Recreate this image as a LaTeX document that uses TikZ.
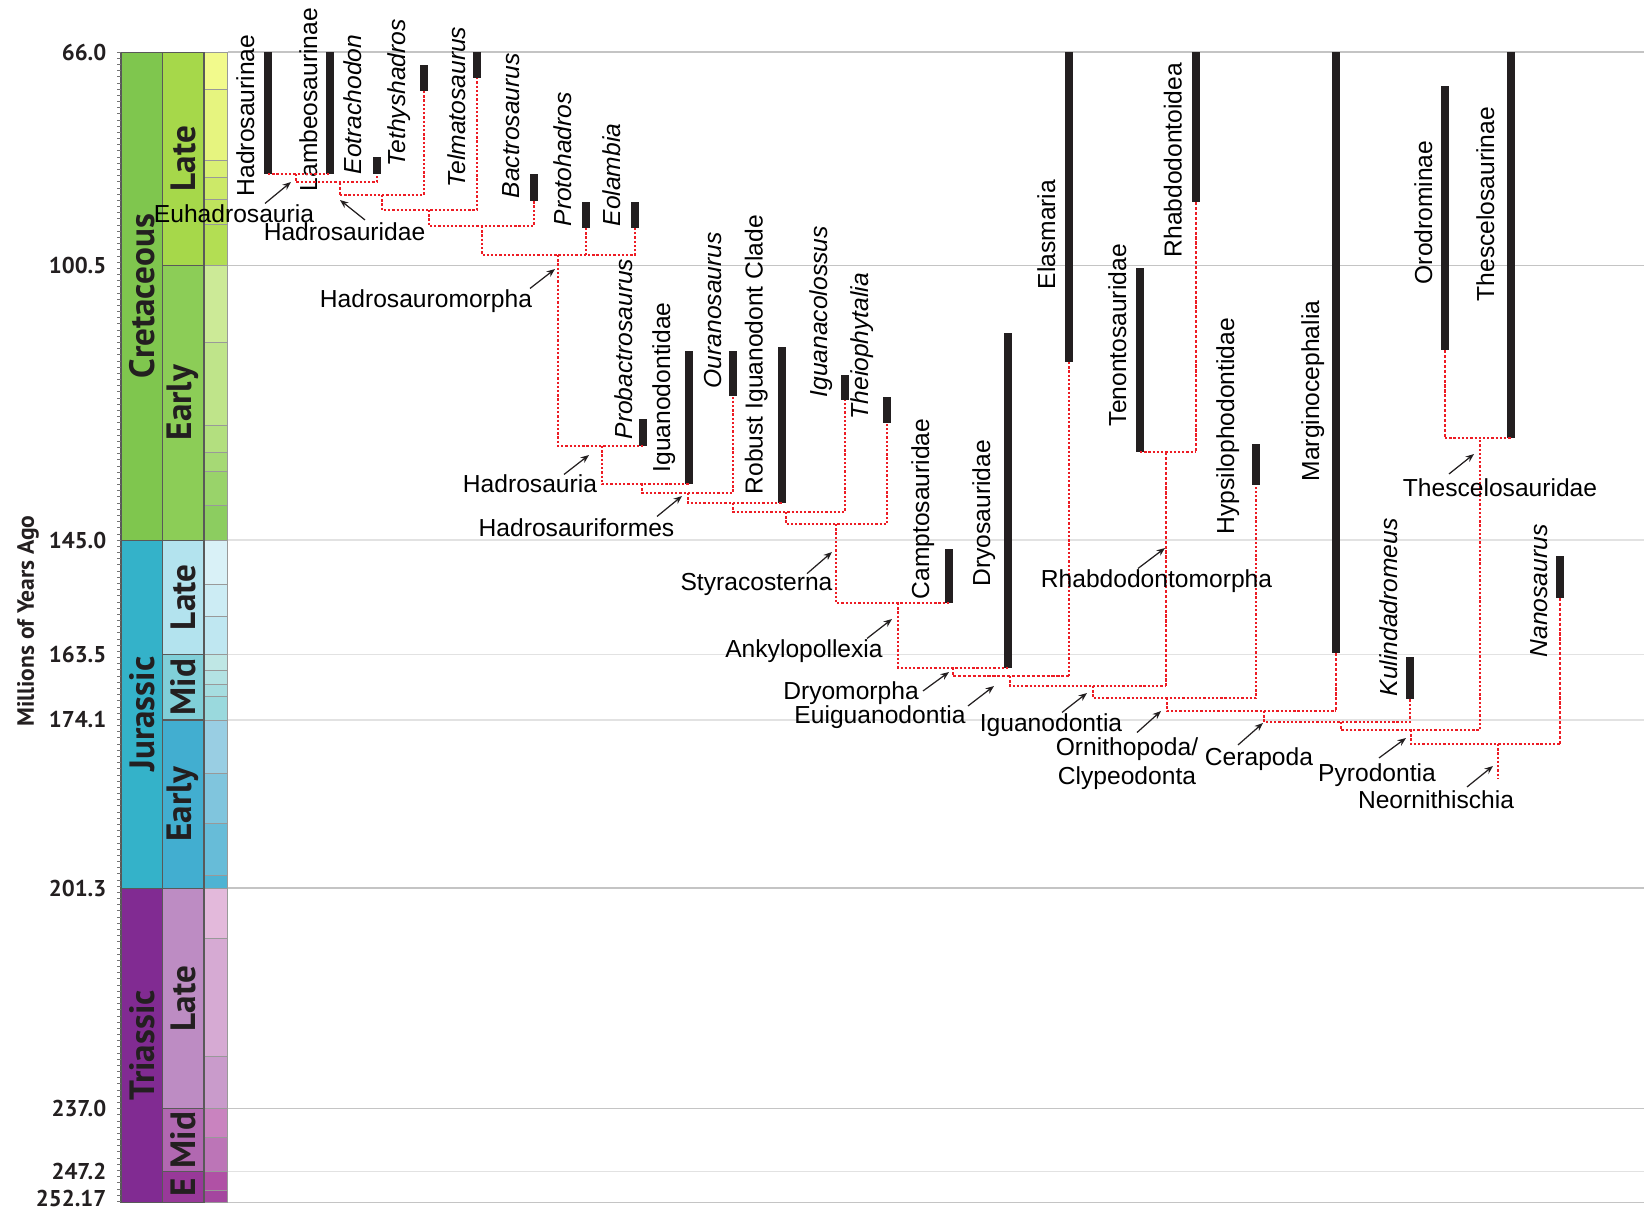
\documentclass[tikz,border=0pt]{standalone}
\usepackage{fontspec}
\setmainfont{Liberation Sans}
\newfontfamily\geofont{PT Sans}
\usetikzlibrary{arrows.meta}

\definecolor{barblack}{HTML}{231F20}
\definecolor{treered}{HTML}{ED1C24}
\definecolor{gridgray}{HTML}{C4C4C4}
\definecolor{gridlight}{HTML}{E2E2E2}

\begin{document}
\begin{tikzpicture}[x=0.01cm, y=-0.01cm, >=Stealth,
    rangebar/.style={draw=barblack, line width=2.25pt},
    branch/.style={draw=treered, line width=0.55pt, dash pattern=on 0.65pt off 0.55pt},
    thinbranch/.style={draw=treered, line width=0.3pt, dash pattern=on 0.9pt off 0.5pt},
    pointer/.style={draw=barblack, line width=0.35pt, -{Stealth[length=2.4pt,width=1.9pt]}},
    taxon/.style={rotate=90, anchor=south west, inner sep=0pt, font=\fontsize{7}{8}\selectfont},
    clade/.style={anchor=base, inner sep=0pt, font=\fontsize{7}{8.2}\selectfont},
    scalelabel/.style={anchor=east, inner sep=0pt, text=barblack, font=\geofont\bfseries\fontsize{6.5}{7}\selectfont},
    unitlabel/.style={rotate=90, inner sep=0pt, text=barblack, font=\geofont\bfseries\fontsize{10}{11}\selectfont}]

  \useasboundingbox (0,0) rectangle (1644,1220);

  % time scale, y given in Ma
  \begin{scope}[yshift=3.5555cm, y=-0.06175cm]
    \foreach \m/\c in {66/gridgray, 100.5/gridgray, 145/gridlight, 163.5/gridlight, 174.1/gridlight,
                       201.3/gridgray, 237/gridgray, 247.2/gridlight, 252.17/gridgray}
      \draw[\c, line width=0.4pt] (227.5,\m) -- (1644,\m);

    \foreach \t/\b/\c in {66/72.1/F2FA8C, 72.1/83.6/E6F47F, 83.6/86.3/D9EF74, 86.3/89.8/CCE968,
                          89.8/93.9/BFE35D, 93.9/100.5/B3DE53, 100.5/113/CCEA97, 113/126.4/BFE48A,
                          126.4/130.8/B3DF7F, 130.8/133.9/A6D975, 133.9/139.4/99D36A, 139.4/145/8CCD60,
                          145/152.1/D9F1F7, 152.1/157.3/CCECF4, 157.3/163.5/BFE7F1, 163.5/166.1/BFE7E5,
                          166.1/168.3/B3E2E3, 168.3/170.3/A6DDE0, 170.3/174.1/9AD9DD, 174.1/182.7/99CEE3,
                          182.7/190.8/80C5DD, 190.8/199.3/67BCD8, 199.3/201.3/4EB3D3, 201.3/209.5/E3B9DB,
                          209.5/228.5/D6AAD3, 228.5/237/C99BCB, 237/241.7/C983BF, 241.7/247.2/BC75B7,
                          247.2/250.3/B051A5, 250.3/252.17/A4469F} {
      \definecolor{stagefill}{HTML}{\c}
      \filldraw[fill=stagefill, draw=black!40, line width=0.2pt] (204,\t) rectangle (227.5,\b);
    }

    \foreach \t/\b/\c/\txt [count=\i] in {66/100.5/A6D84A/Late, 100.5/145/8CCD57/Early,
                          145/163.5/B3E3EE/Late, 163.5/174.1/80CFD8/Mid, 174.1/201.3/42AED0/Early,
                          201.3/237/BD8CC3/Late, 237/247.2/B168B1/Mid, 247.2/252.17/983999/E} {
      \definecolor{epochfill}{HTML}{\c}
      \filldraw[fill=epochfill, draw=black!65, line width=0.3pt] (162.5,\t) rectangle (204,\b);
      \node[unitlabel] (epoch-\i) at (183.25,{(\t+\b)/2}) {\txt};
    }

    \foreach \t/\b/\c/\txt [count=\i] in {66/145/7FC64E/Cretaceous, 145/201.3/34B2C9/Jurassic,
                          201.3/252.17/812B92/Triassic} {
      \definecolor{periodfill}{HTML}{\c}
      \filldraw[fill=periodfill, draw=black!65, line width=0.3pt] (121,\t) rectangle (162.5,\b);
      \node[unitlabel] (period-\i) at (141.75,{(\t+\b)/2}) {\txt};
    }

    \foreach \m in {66,...,252}
      \draw[black!55, line width=0.25pt] (117,\m) -- (121,\m);

    \foreach \m/\txt [count=\i] in {66/66.0, 100.5/100.5, 145/145.0, 163.5/163.5, 174.1/174.1,
                                    201.3/201.3, 237/237.0, 247.2/247.2, 251.5/252.17}
      \node[scalelabel] (age-\i) at (107,\m) {\txt};
  \end{scope}

  \node[rotate=90, inner sep=0pt, text=barblack, font=\geofont\bfseries\fontsize{6.7}{8}\selectfont]
    (axis-title) at (28,621) {Millions of Years Ago};

  % stratigraphic ranges
  \foreach \name/\x/\top/\bot in {hadrosaurinae/268/52/174, lambeosaurinae/330/52/174,
      eotrachodon/377/157/174, tethyshadros/424/65/91, telmatosaurus/477/52/78,
      bactrosaurus/534/174/201, protohadros/586/202/228, eolambia/635/202/228,
      probactrosaurus/643/419/446, iguanodontidae/689/351/484, ouranosaurus/733/351/396,
      robust/782/347/503, iguanacolossus/845/375/400, theiophytalia/887/397/423,
      camptosauridae/949/549/603, dryosauridae/1008/333/668, elasmaria/1069/52/362,
      tenontosauridae/1140/268/452, rhabdodontoidea/1196/52/202, hypsilophodontidae/1256/444/485,
      marginocephalia/1336/52/653, orodrominae/1445/86/350, thescelosaurinae/1511/52/438,
      kulindadromeus/1410/657/699, nanosaurus/1560/556/598} {
    \coordinate (\name) at (\x,\bot);
    \draw[rangebar] (\x,\top) -- (\name);
  }

  \foreach \name/\x/\y/\txt in {hadrosaurinae/255/197/Hadrosaurinae,
      lambeosaurinae/318/192/Lambeosaurinae, eotrachodon/362.5/175/\textit{Eotrachodon},
      tethyshadros/411/167/\textit{Tethyshadros}, telmatosaurus/466/188/\textit{Telmatosaurus},
      bactrosaurus/520/199/\textit{Bactrosaurus}, protohadros/572/227/\textit{Protohadros},
      eolambia/621/227/\textit{Eolambia}, probactrosaurus/633/440/\textit{Probactrosaurus},
      iguanodontidae/676/473/Iguanodontidae, ouranosaurus/722/389/\textit{Ouranosaurus},
      robust/768.5/495/Robust Iguanodont Clade, iguanacolossus/833/398/\textit{Iguanacolossus},
      theiophytalia/874/420/\textit{Theiophytalia}, camptosauridae/935/600/Camptosauridae,
      dryosauridae/996/587/Dryosauridae, elasmaria/1056/290/Elasmaria,
      tenontosauridae/1127/427/Tenontosauridae, rhabdodontoidea/1182.5/258/Rhabdodontoidea,
      hypsilophodontidae/1240/535/Hypsilophodontidae, marginocephalia/1325/482/Marginocephalia,
      orodrominae/1433/285/Orodrominae, thescelosaurinae/1495/302/Thescelosaurinae,
      kulindadromeus/1398/697/\textit{Kulindadromeus}, nanosaurus/1548/658/\textit{Nanosaurus}}
    \node[taxon] (lbl-\name) at (\x,\y) {\txt};

  % clade nodes
  \coordinate (euhadrosauria) at (296,174);
  \coordinate (hadrosauridae) at (340,182);
  \coordinate (clade-a) at (382,195);
  \coordinate (clade-b) at (429,210);
  \coordinate (clade-c) at (482,226);
  \coordinate (hadrosauromorpha) at (558,255);
  \coordinate (hadrosauria) at (602,446);
  \coordinate (clade-d) at (642,484);
  \coordinate (hadrosauriformes) at (688,493);
  \coordinate (clade-e) at (733,503);
  \coordinate (clade-f) at (786,512);
  \coordinate (styracosterna) at (836,524);
  \coordinate (ankylopollexia) at (898,603);
  \coordinate (dryomorpha) at (953,668);
  \coordinate (euiguanodontia) at (1010,676);
  \coordinate (rhabdodontomorpha) at (1166,452);
  \coordinate (iguanodontia) at (1093,686);
  \coordinate (ornithopoda) at (1167,698);
  \coordinate (cerapoda) at (1264,711);
  \coordinate (clade-g) at (1341,722);
  \coordinate (thescelosauridae) at (1480,438);
  \coordinate (pyrodontia) at (1411,730);
  \coordinate (neornithischia) at (1498,744);
  \coordinate (root) at (1498,778);

  \draw[branch] (hadrosaurinae) |- (euhadrosauria) -| (lambeosaurinae);
  \draw[branch] (euhadrosauria) |- (hadrosauridae) -| (eotrachodon);
  \draw[thinbranch] (hadrosauridae) -- (hadrosauridae |- clade-a);
  \draw[branch] (hadrosauridae |- clade-a) -- (clade-a) -| (tethyshadros);
  \draw[branch] (clade-a) |- (clade-b) -| (telmatosaurus);
  \draw[branch] (clade-b) |- (clade-c) -| (bactrosaurus);
  \draw[branch] (clade-c) |- (hadrosauromorpha) -| (eolambia);
  \draw[branch] (protohadros) -- (protohadros |- hadrosauromorpha);
  \draw[branch] (hadrosauromorpha) |- (hadrosauria) -| (probactrosaurus);
  \draw[branch] (hadrosauria) |- (clade-d) -| (iguanodontidae);
  \draw[branch] (clade-d) |- (hadrosauriformes) -| (ouranosaurus);
  \draw[branch] (hadrosauriformes) |- (clade-e) -| (robust);
  \draw[branch] (clade-e) |- (clade-f) -| (iguanacolossus);
  \draw[branch] (clade-f) |- (styracosterna) -| (theiophytalia);
  \draw[branch] (styracosterna) |- (ankylopollexia) -| (camptosauridae);
  \draw[branch] (ankylopollexia) |- (dryomorpha) -| (dryosauridae);
  \draw[branch] (dryomorpha) -- (dryomorpha |- euiguanodontia);
  \draw[thinbranch] (dryomorpha |- euiguanodontia) -- (elasmaria |- euiguanodontia);
  \draw[branch] (elasmaria) -- (elasmaria |- euiguanodontia);
  \draw[branch] (tenontosauridae) -- (tenontosauridae -| rhabdodontoidea);
  \draw[thinbranch] (rhabdodontoidea) -- (tenontosauridae -| rhabdodontoidea);
  \draw[branch] (euiguanodontia) |- (iguanodontia) -- (iguanodontia -| rhabdodontomorpha);
  \draw[thinbranch] (rhabdodontomorpha) -- (iguanodontia -| rhabdodontomorpha);
  \draw[branch] (iguanodontia) |- (ornithopoda) -| (hypsilophodontidae);
  \draw[branch] (ornithopoda) |- (cerapoda) -- (cerapoda -| marginocephalia);
  \draw[thinbranch] (marginocephalia) -- (cerapoda -| marginocephalia);
  \draw[branch] (cerapoda) |- (clade-g) -| (kulindadromeus);
  \draw[thinbranch] (orodrominae) -- (orodrominae |- thescelosauridae);
  \draw[branch] (orodrominae |- thescelosauridae) -- (thescelosaurinae);
  \draw[branch] (clade-g) |- (pyrodontia) -| (thescelosauridae);
  \draw[branch] (pyrodontia) |- (neornithischia) -- (neornithischia -| nanosaurus);
  \draw[thinbranch] (nanosaurus) -- (neornithischia -| nanosaurus);
  \draw[branch] (neornithischia) -- (root);

  % clade names
  \node[clade] (lbl-euhadrosauria) at (234,222) {Euhadrosauria};
  \node[clade] (lbl-hadrosauridae) at (344.5,240) {Hadrosauridae};
  \node[clade] (lbl-hadrosauromorpha) at (426,307) {Hadrosauromorpha};
  \node[clade] (lbl-hadrosauria) at (530,492) {Hadrosauria};
  \node[clade] (lbl-hadrosauriformes) at (576.5,536) {Hadrosauriformes};
  \node[clade] (lbl-styracosterna) at (756.5,590) {Styracosterna};
  \node[clade] (lbl-ankylopollexia) at (804,657) {Ankylopollexia};
  \node[clade] (lbl-dryomorpha) at (851,699) {Dryomorpha};
  \node[clade] (lbl-euiguanodontia) at (880,723) {Euiguanodontia};
  \node[clade] (lbl-iguanodontia) at (1051,731) {Iguanodontia};
  \node[clade, anchor=north, align=center] (lbl-ornithopoda) at (1127,737) {Ornithopoda/\\Clypeodonta};
  \node[clade] (lbl-cerapoda) at (1259,765) {Cerapoda};
  \node[clade] (lbl-pyrodontia) at (1377,781) {Pyrodontia};
  \node[clade] (lbl-neornithischia) at (1436,808) {Neornithischia};
  \node[clade] (lbl-rhabdodontomorpha) at (1156.5,587) {Rhabdodontomorpha};
  \node[clade] (lbl-thescelosauridae) at (1500,496) {Thescelosauridae};

  \draw[pointer] ([shift={(31,0)}]lbl-euhadrosauria.north) -- ([shift={(-5,8)}]euhadrosauria);
  \draw[pointer] ([shift={(20.5,-1.5)}]lbl-hadrosauridae.north) -- ([shift={(0,18)}]hadrosauridae);
  \draw[pointer] ([shift={(104,0)}]lbl-hadrosauromorpha.north) -- ([shift={(-3,14)}]hadrosauromorpha);
  \draw[pointer] ([shift={(34,1)}]lbl-hadrosauria.north) -- ([shift={(-13,9)}]hadrosauria);
  \draw[pointer] ([shift={(80.5,-1)}]lbl-hadrosauriformes.north) -- ([shift={(-6,3)}]hadrosauriformes);
  \draw[pointer] ([shift={(50.5,1.5)}]lbl-styracosterna.north) -- ([shift={(-4,28)}]styracosterna);
  \draw[pointer] ([shift={(63,0)}]lbl-ankylopollexia.north) -- ([shift={(-6,16)}]ankylopollexia);
  \draw[pointer] ([shift={(72,10.5)}]lbl-dryomorpha.north) -- ([shift={(-4,4)}]dryomorpha);
  \draw[pointer] ([shift={(88,1.5)}]lbl-euiguanodontia.north) -- ([shift={(-16,10)}]euiguanodontia);
  \draw[pointer] ([shift={(11,0)}]lbl-iguanodontia.north) -- ([shift={(-6,7)}]iguanodontia);
  \draw[pointer] ([shift={(10,-4.5)}]lbl-ornithopoda.north) -- ([shift={(-6,13)}]ornithopoda);
  \draw[pointer] ([shift={(-21,-1.5)}]lbl-cerapoda.north) -- ([shift={(-1,12)}]cerapoda);
  \draw[pointer] ([shift={(2,-4.5)}]lbl-pyrodontia.north) -- ([shift={(-5,8)}]pyrodontia);
  \draw[pointer] ([shift={(31,-2.5)}]lbl-neornithischia.north) -- ([shift={(-5,22)}]neornithischia);
  \draw[pointer] ([shift={(-18.5,0)}]lbl-rhabdodontomorpha.north) -- ([shift={(-1,96)}]rhabdodontomorpha);
  \draw[pointer] ([shift={(-51,-3.5)}]lbl-thescelosauridae.north) -- ([shift={(-6,16)}]thescelosauridae);

\end{tikzpicture}
\end{document}
